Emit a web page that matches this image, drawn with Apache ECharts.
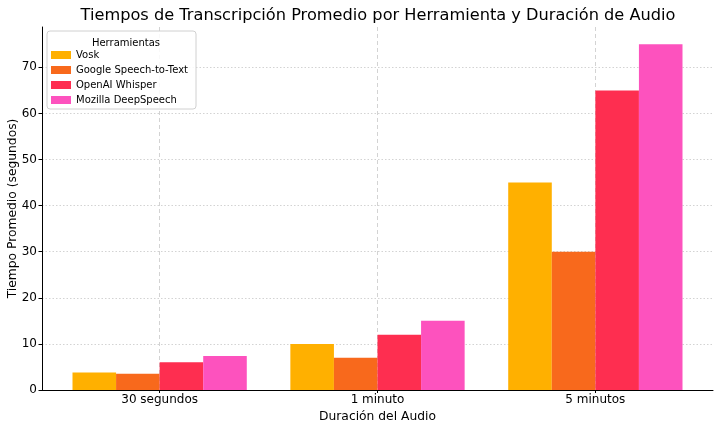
<!DOCTYPE html>
<html>
<head>
<meta charset="utf-8">
<script src="https://cdn.jsdelivr.net/npm/echarts@6/dist/echarts.min.js"></script>
<style>
  html, body { margin: 0; padding: 0; background: #fff; }
  #chart { width: 722px; height: 429px; }
</style>
</head>
<body>
<div id="chart"></div>
<script>
// datos
var duraciones = ['30 segundos', '1 minuto', '5 minutos'];
var herramientas = ['Vosk', 'Google Speech-to-Text', 'OpenAI Whisper', 'Mozilla DeepSpeech'];
var vosk = [3.8, 10, 45];
var google = [3.5, 7, 30];
var whisper = [6, 12, 65];
var deepspeech = [7.4, 15, 75];
var yTicks = [0, 10, 20, 30, 40, 50, 60, 70];
var colores = ['#FFB000', '#F8691C', '#FE2E50', '#FD52BE'];

(function () {
  var myChart = echarts.init(document.getElementById('chart'));
  var font = 'DejaVu Sans';
  var valores = [vosk, google, whisper, deepspeech];
  var catIdx = duraciones.map(function (d, i) { return i; });

  var series = herramientas.map(function (name, s) {
    return {
      name: name,
      type: 'bar',
      barGap: 0,
      barCategoryGap: '20%',
      itemStyle: { color: colores[s] },
      data: valores[s].map(function (v, i) { return [i, v]; })
    };
  });

  var option = {
    animation: false,
    color: colores,
    textStyle: { fontFamily: font },
    title: [{
      text: 'Tiempos de Transcripción Promedio por Herramienta y Duración de Audio',
      left: 373, top: 3, textAlign: 'center',
      textStyle: { fontFamily: font, fontSize: 16.2, fontWeight: 'normal', color: '#000' }
    }, {
      // titulo de la leyenda
      text: 'Herramientas',
      left: 121, top: 33, textAlign: 'center',
      textStyle: { fontFamily: font, fontSize: 10, fontWeight: 'normal', color: '#000' }
    }],
    legend: {
      orient: 'vertical',
      left: 47, top: 31,
      padding: [19, 8, 4, 4],
      itemGap: 5,
      itemWidth: 20,
      itemHeight: 8,
      borderColor: '#d0d0d0',
      borderWidth: 1,
      borderRadius: 3,
      backgroundColor: 'rgba(255,255,255,0.85)',
      icon: 'rect',
      data: herramientas,
      textStyle: { fontFamily: font, fontSize: 10, color: '#000' }
    },
    grid: { left: 42, right: 9, top: 27, bottom: 39, containLabel: false, outerBoundsMode: 'none' },
    xAxis: {
      type: 'value',
      min: -0.54, max: 2.54,
      name: 'Duración del Audio',
      nameLocation: 'middle',
      nameGap: 21,
      nameMoveOverlap: false,
      nameTextStyle: { fontFamily: font, fontSize: 12.3, color: '#000' },
      axisLine: { show: true, onZero: false, lineStyle: { color: '#000', width: 1 } },
      axisTick: { show: true, customValues: catIdx, length: 3, lineStyle: { color: '#000' } },
      axisLabel: {
        customValues: catIdx,
        formatter: function (v) { return duraciones[Math.round(v)]; },
        fontFamily: font, fontSize: 12, color: '#000', margin: 4
      },
      splitLine: { show: true, lineStyle: { color: '#c8c8c8', type: [4, 3], width: 0.8 } }
    },
    yAxis: {
      type: 'value',
      min: 0, max: 78.75,
      name: 'Tiempo Promedio (segundos)',
      nameLocation: 'middle',
      nameGap: 23,
      nameMoveOverlap: false,
      nameTextStyle: { fontFamily: font, fontSize: 12.3, color: '#000' },
      axisLine: { show: true, onZero: false, lineStyle: { color: '#000', width: 1 } },
      axisTick: { show: true, customValues: yTicks, length: 3.5, lineStyle: { color: '#000' } },
      axisLabel: { customValues: yTicks, fontFamily: font, fontSize: 12, color: '#000', margin: 5 },
      splitLine: { show: true, lineStyle: { color: '#c8c8c8', type: [1.5, 2], width: 0.8 } }
    },
    series: series
  };

  myChart.setOption(option);
  window.addEventListener('resize', function () {
    myChart.resize();
  });
})();
</script>
</body>
</html>
